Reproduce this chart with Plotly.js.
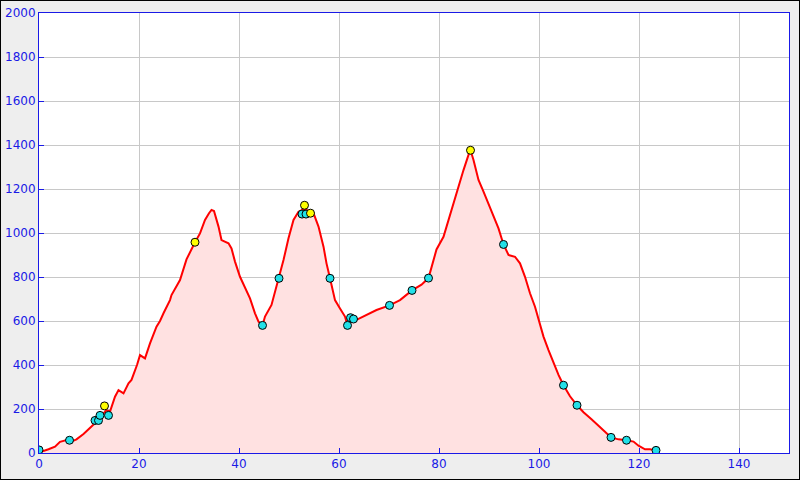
<!DOCTYPE html>
<html>
<head>
<meta charset="utf-8">
<script src="https://cdn.plot.ly/plotly-3.0.1.min.js"></script>
<style>
html,body{margin:0;padding:0;background:#eeeeee;}
#chart{width:800px;height:480px;box-sizing:border-box;border:1px solid #000;}
</style>
</head>
<body>
<div id="chart"></div>
<script>
// Elevation profile (distance, altitude)
const distance = [0,0.9,1.9,3.2,4.2,5.5,6.1,7.5,8.9,10.2,11.5,12.5,13.5,14.2,15.2,15.9,16.9,17.9,18.5,19.6,20.2,21.2,22.2,23.5,24.2,24.9,26.2,26.5,28.2,29.5,30.5,31.2,32.2,33.2,34.0,34.5,35.0,35.5,35.9,36.5,37.2,37.9,38.5,39.2,40.2,41.5,42.2,43.2,43.9,44.7,45.2,46.5,47.5,48.0,48.9,49.9,50.9,51.9,52.6,53.4,54.3,54.9,55.9,56.9,57.5,58.2,59.2,60.2,61.2,61.7,62.2,63.5,65.5,67.5,70.1,72.2,74.6,76.5,77.9,78.5,79.5,80.9,81.5,82.2,83.2,83.9,84.9,85.9,86.3,86.9,87.9,88.9,89.9,90.9,91.9,92.9,93.9,95.2,96.2,97.2,98.2,99.2,99.9,100.9,101.9,102.9,103.9,104.9,106.2,107.6,108.9,110.5,112.2,113.2,114.4,115.9,117.5,118.9,119.9,121.2,122.2,123.4];
const altitude = [12,9,17,29,51,59,48,62,86,112,142,170,195,188,256,286,271,317,332,400,445,430,498,574,600,635,695,718,786,880,930,958,998,1059,1090,1105,1100,1065,1029,968,960,953,930,870,801,741,703,635,597,580,620,673,756,794,877,976,1059,1097,1105,1105,1100,1090,1029,938,862,794,695,657,620,580,597,605,627,650,671,695,739,765,795,847,925,983,1029,1089,1165,1210,1286,1355,1376,1332,1241,1188,1135,1082,1021,948,900,892,862,801,726,665,605,529,468,408,355,308,258,217,185,153,120,97,71,62,58,52,33,17,17,12];

// Waypoints
const waypointDist = [0,6.1,11.2,11.9,12.2,13.9,44.7,48.0,52.6,53.4,58.2,61.7,62.3,62.9,70.1,74.6,77.9,92.9,104.9,107.6,114.4,117.5,123.4];
const waypointAlt = [14,58,148,148,171,171,580,794,1086,1086,794,580,615,609,671,739,795,948,308,217,71,58,12];
const summitDist = [13.1,31.2,53.1,54.3,86.3];
const summitAlt = [214,958,1126,1090,1376];

const xTicks = [0,20,40,60,80,100,120,140];
const yTicks = [0,200,400,600,800,1000,1200,1400,1600,1800,2000];

const blue = '#1a1ae6';
const traces = [
  {x: distance, y: altitude, type: 'scatter', mode: 'lines', fill: 'tozeroy',
   fillcolor: '#ffe1e1', line: {color: '#ff0000', width: 2}, hoverinfo: 'skip'},
  {x: waypointDist, y: waypointAlt, type: 'scatter', mode: 'markers',
   marker: {color: '#22e0e8', size: 8, line: {color: '#000', width: 1}}},
  {x: summitDist, y: summitAlt, type: 'scatter', mode: 'markers',
   marker: {color: '#ffff00', size: 8, line: {color: '#000', width: 1}}}
];

const axisCommon = {
  showline: true, linecolor: blue, linewidth: 1, mirror: true,
  ticks: 'inside', ticklen: 5, tickcolor: blue, tickwidth: 1,
  showgrid: true, gridcolor: '#c8c8c8', gridwidth: 1, zeroline: false,
  tickfont: {family: 'DejaVu Sans', size: 12, color: blue}, fixedrange: true
};

const layout = {
  width: 798, height: 478,
  margin: {l: 38, r: 10, t: 12, b: 26},
  paper_bgcolor: '#eeeeee', plot_bgcolor: '#ffffff',
  showlegend: false,
  xaxis: Object.assign({}, axisCommon, {range: [0, 150], tickvals: xTicks, ticktext: xTicks.map(String)}),
  yaxis: Object.assign({}, axisCommon, {range: [0, 2000], tickvals: yTicks, ticktext: yTicks.map(String)})
};

Plotly.newPlot('chart', traces, layout, {displayModeBar: false, staticPlot: true});
</script>
</body>
</html>
